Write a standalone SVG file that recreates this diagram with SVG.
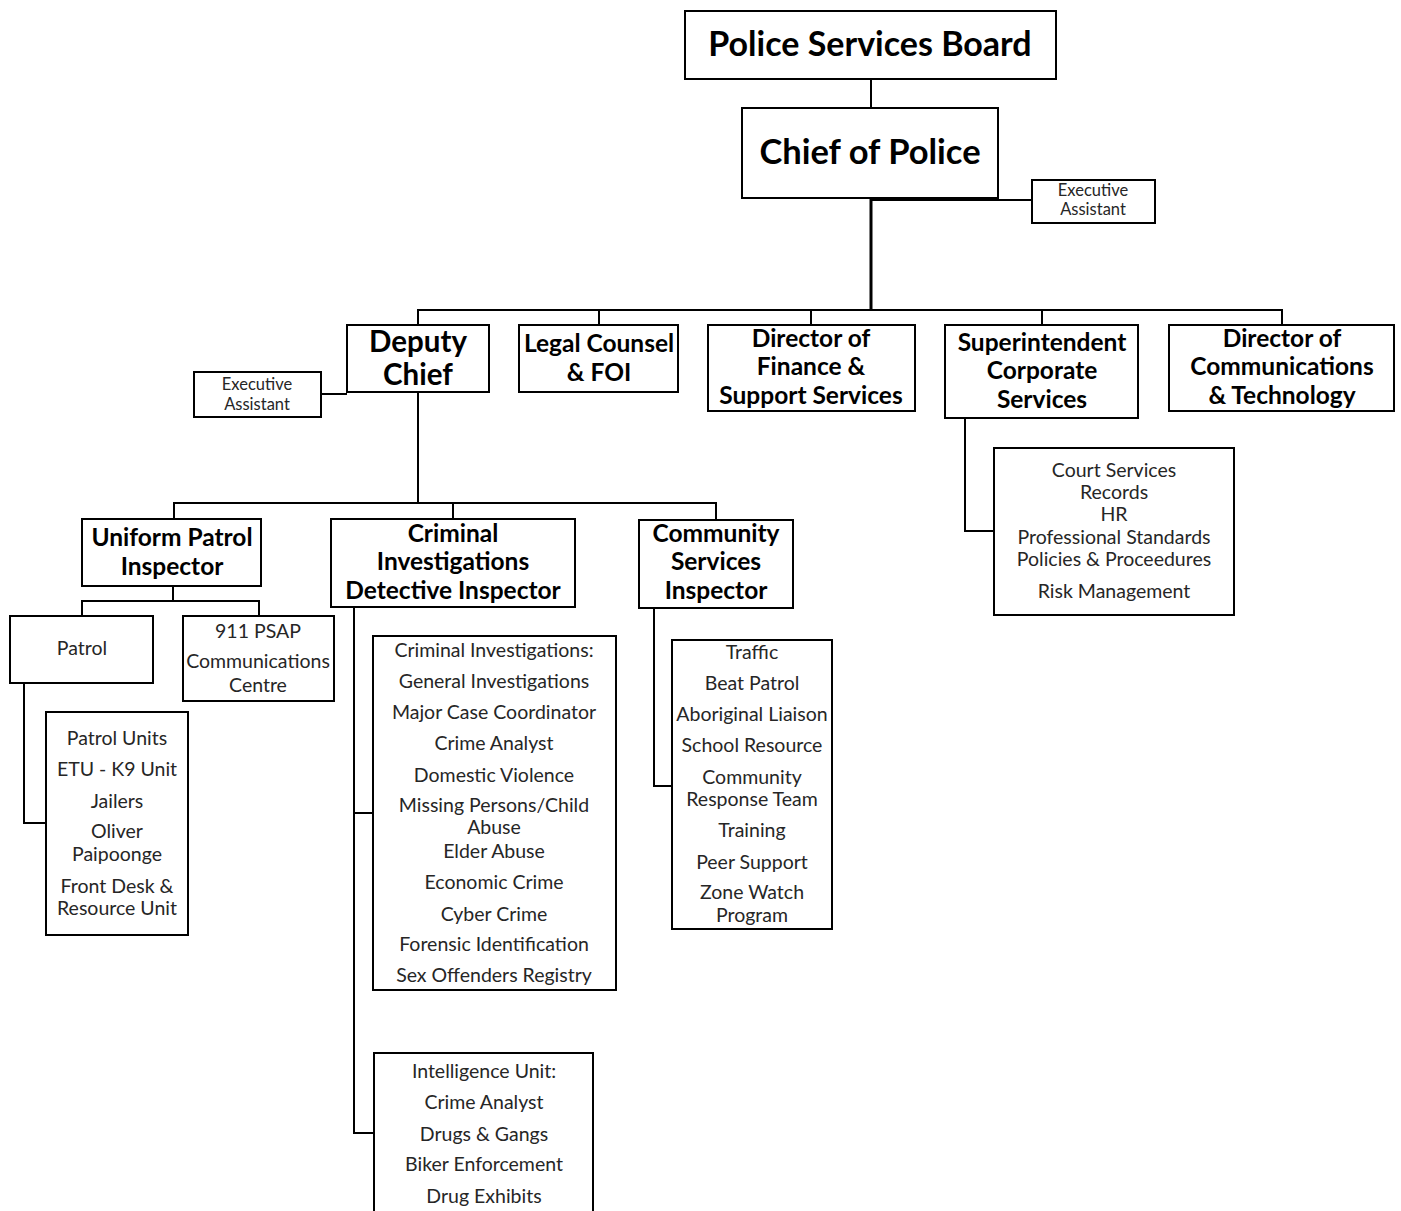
<svg xmlns="http://www.w3.org/2000/svg" width="1401" height="1211" viewBox="0 0 1401 1211">
<style>
.box{fill:#fff;stroke:#000;stroke-width:2}
.h{font-family:Lato,"Open Sans",sans-serif;font-weight:bold;fill:#000;text-anchor:middle;font-size:24.5px}
.t{font-family:Lato,"Open Sans",sans-serif;fill:#262626;text-anchor:middle;font-size:19.5px}
.s{font-family:Lato,"Open Sans",sans-serif;fill:#262626;text-anchor:middle;font-size:16.5px}
.c{fill:none;stroke:#000;stroke-width:2}
</style>
<rect width="1401" height="1211" fill="#fff"/>
<g id="connectors">
<path class="c" d="M871 79V108"/>
<path class="c" d="M871 200H1032"/>
<path class="c" d="M871 198V310" style="stroke-width:3"/>
<path class="c" d="M418 325V310H1282V325M599 310V325M811 310V325M1042 310V325"/>
<path class="c" d="M321 394H347"/>
<path class="c" d="M418 392V503"/>
<path class="c" d="M174 519V503H716V520M453 503V519"/>
<path class="c" d="M173 586V601M82 616V601H259V616"/>
<path class="c" d="M24 683V823H46"/>
<path class="c" d="M354 607V1133H374M354 813H373"/>
<path class="c" d="M654 608V786H672"/>
<path class="c" d="M965 418V531H994"/>
</g>
<g id="board"><rect class="box" x="685" y="11" width="371" height="68"/><text class="h" x="870" y="56" style="font-size:34px">Police Services Board</text></g>
<g id="chief"><rect class="box" x="742" y="108" width="256" height="90"/><text class="h" x="870" y="164" style="font-size:34.5px">Chief of Police</text></g>
<g id="exec1"><rect class="box" x="1032" y="180" width="123" height="43"/><text class="s" x="1093" y="196">Executive</text><text class="s" x="1093" y="215">Assistant</text></g>
<g id="deputy"><rect class="box" x="347" y="325" width="142" height="67"/><text class="h" x="418" y="352" style="font-size:29.5px">Deputy</text><text class="h" x="418" y="385" style="font-size:29.5px">Chief</text></g>
<g id="exec2"><rect class="box" x="194" y="372" width="127" height="45"/><text class="s" x="257" y="390">Executive</text><text class="s" x="257" y="410">Assistant</text></g>
<g id="legal"><rect class="box" x="519" y="325" width="159" height="67"/><text class="h" x="599" y="352">Legal Counsel</text><text class="h" x="599" y="381">&amp; FOI</text></g>
<g id="finance"><rect class="box" x="708" y="325" width="207" height="86"/><text class="h" x="811" y="347">Director of</text><text class="h" x="811" y="375">Finance &amp;</text><text class="h" x="811" y="404">Support Services</text></g>
<g id="super"><rect class="box" x="945" y="325" width="193" height="93"/><text class="h" x="1042" y="351">Superintendent</text><text class="h" x="1042" y="379">Corporate</text><text class="h" x="1042" y="408">Services</text></g>
<g id="commtech"><rect class="box" x="1169" y="325" width="225" height="86"/><text class="h" x="1282" y="347">Director of</text><text class="h" x="1282" y="375">Communications</text><text class="h" x="1282" y="404">&amp; Technology</text></g>
<g id="corplist"><rect class="box" x="994" y="448" width="240" height="167"/><text class="t" x="1114" y="477">Court Services</text><text class="t" x="1114" y="499">Records</text><text class="t" x="1114" y="521">HR</text><text class="t" x="1114" y="544">Professional Standards</text><text class="t" x="1114" y="566">Policies &amp; Proceedures</text><text class="t" x="1114" y="598">Risk Management</text></g>
<g id="uniform"><rect class="box" x="82" y="519" width="179" height="67"/><text class="h" x="172" y="546">Uniform Patrol</text><text class="h" x="172" y="575">Inspector</text></g>
<g id="criminal"><rect class="box" x="331" y="519" width="244" height="88"/><text class="h" x="453" y="542">Criminal</text><text class="h" x="453" y="570">Investigations</text><text class="h" x="453" y="599">Detective Inspector</text></g>
<g id="community"><rect class="box" x="639" y="520" width="154" height="88"/><text class="h" x="716" y="542">Community</text><text class="h" x="716" y="570">Services</text><text class="h" x="716" y="599">Inspector</text></g>
<g id="patrol"><rect class="box" x="10" y="616" width="143" height="67"/><text class="t" x="82" y="655">Patrol</text></g>
<g id="psap"><rect class="box" x="183" y="616" width="151" height="85"/><text class="t" x="258" y="638">911 PSAP</text><text class="t" x="258" y="668">Communications</text><text class="t" x="258" y="692">Centre</text></g>
<g id="patrollist"><rect class="box" x="46" y="712" width="142" height="223"/><text class="t" x="117" y="745">Patrol Units</text><text class="t" x="117" y="776">ETU - K9 Unit</text><text class="t" x="117" y="808">Jailers</text><text class="t" x="117" y="838">Oliver</text><text class="t" x="117" y="861">Paipoonge</text><text class="t" x="117" y="893">Front Desk &amp;</text><text class="t" x="117" y="915">Resource Unit</text></g>
<g id="crimlist"><rect class="box" x="373" y="636" width="243" height="354"/><text class="t" x="494" y="657">Criminal Investigations:</text><text class="t" x="494" y="688">General Investigations</text><text class="t" x="494" y="719">Major Case Coordinator</text><text class="t" x="494" y="750">Crime Analyst</text><text class="t" x="494" y="782">Domestic Violence</text><text class="t" x="494" y="812">Missing Persons/Child</text><text class="t" x="494" y="834">Abuse</text><text class="t" x="494" y="858">Elder Abuse</text><text class="t" x="494" y="889">Economic Crime</text><text class="t" x="494" y="921">Cyber Crime</text><text class="t" x="494" y="951">Forensic Identification</text><text class="t" x="494" y="982">Sex Offenders Registry</text></g>
<g id="intel"><rect class="box" x="374" y="1053" width="219" height="170"/><text class="t" x="484" y="1078">Intelligence Unit:</text><text class="t" x="484" y="1109">Crime Analyst</text><text class="t" x="484" y="1141">Drugs &amp; Gangs</text><text class="t" x="484" y="1171">Biker Enforcement</text><text class="t" x="484" y="1203">Drug Exhibits</text></g>
<g id="commlist"><rect class="box" x="672" y="640" width="160" height="289"/><text class="t" x="752" y="659">Traffic</text><text class="t" x="752" y="690">Beat Patrol</text><text class="t" x="752" y="721">Aboriginal Liaison</text><text class="t" x="752" y="752">School Resource</text><text class="t" x="752" y="784">Community</text><text class="t" x="752" y="806">Response Team</text><text class="t" x="752" y="837">Training</text><text class="t" x="752" y="869">Peer Support</text><text class="t" x="752" y="899">Zone Watch</text><text class="t" x="752" y="922">Program</text></g>
</svg>
